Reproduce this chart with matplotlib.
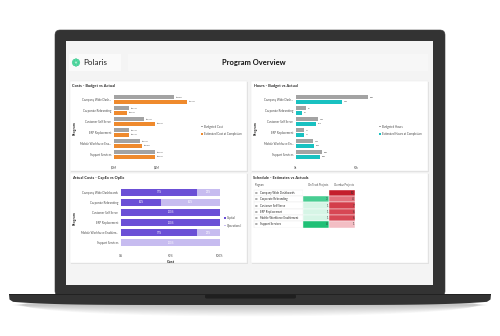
import matplotlib
matplotlib.use("Agg")
import matplotlib.pyplot as plt
import numpy as np
from matplotlib.patches import Rectangle, FancyBboxPatch, Circle, Ellipse, Polygon
from matplotlib.colors import LinearSegmentedColormap, Normalize

plt.rcParams["font.family"] = ["Lato", "DejaVu Sans"]

# ---------------- data ----------------
programs_cost = ["Company Wide Dash...", "Corporate Rebranding", "Customer Self Serve",
                 "ERP Replacement", "Mobile Workforce Ena...", "Support Services"]
programs_hours = ["Company Wide Dash...", "Corporate Rebranding", "Customer Self Serve",
                  "ERP Replacement", "Mobile Workforce En...", "Support Services"]
programs_capex = ["Company Wide Dashboards", "Corporate Rebranding", "Customer Self Serve",
                  "ERP Replacement", "Mobile Workforce Enablem...", "Support Services"]
programs_table = ["Company Wide Dashboards", "Corporate Rebranding", "Customer Self Serve",
                  "ERP Replacement", "Mobile Workforce Enablement", "Support Services"]

budget_cost = [2.8, 0.7, 1.4, 0.7, 1.2, 1.9]
est_cost = [3.4, 0.6, 1.9, 0.7, 1.3, 1.9]
cost_ticks = [0, 2]
cost_tick_labels = ["$0M", "$2M"]

budget_hours = [60, 8, 18, 7, 14, 22]
est_hours = [38, 5, 17, 7, 15, 20]
hours_ticks = [0, 50]
hours_tick_labels = ["0k", "50k"]

capital_pct = [77, 40, 100, 100, 77, 0]
operational_pct = [23, 60, 0, 0, 23, 100]
pct_ticks = [0, 50, 100]
pct_tick_labels = ["0%", "50%", "100%"]

on_track = [np.nan, 3, 1, 1, 1, 4]
overdue = [10, 4, 7, 6, 6, 1]
table_headers = ["Program", "On Track Projects", "Overdue Projects"]

# ---------------- styling ----------------
W, H = 500, 336
GRAY = "#a3a3a3"
ORANGE = "#ef8a2d"
TEAL = "#19c1c1"
PURPLE = "#6b4fd6"
LAVENDER = "#c7bcf0"
TXT = "#252423"
SUB = "#4a4a4a"
LBL = 2.1

fig = plt.figure(figsize=(W / 100, H / 100), dpi=100)
fig.patch.set_facecolor("white")

bg = fig.add_axes([0, 0, 1, 1])
bg.set_xlim(0, W)
bg.set_ylim(H, 0)
bg.axis("off")


def axpos(x0, y0, x1, y1):
    return [x0 / W, 1 - y1 / H, (x1 - x0) / W, (y1 - y0) / H]


# shadow under the laptop
for k in range(10):
    bg.add_patch(Ellipse((250, 305), 478 - 3 * k, 3 + 2.2 * k, color="#000000",
                         alpha=0.022, lw=0, zorder=0))

# lid
bg.add_patch(FancyBboxPatch((55, 30), 390, 266, boxstyle="round,pad=0,rounding_size=5",
                            fc="#333333", ec="#3c3c3c", lw=0.4, zorder=1))
# screen
bg.add_patch(Rectangle((66, 41), 367, 244, fc="#f4f4f4", ec="none", zorder=2))
# base (curved bottom)
xs = np.linspace(9, 491, 120)
bottom = 305 - 3.5 * ((xs - 250) / 241) ** 6
pts = [(9, 294.5)] + [(9.5, 299.5)] + list(zip(xs[1:-1], bottom[1:-1])) + [(490.5, 299.5), (491, 294.5)]
bg.add_patch(Polygon(pts, closed=True, fc="#333333", ec="none", zorder=3))
bg.add_patch(Rectangle((9, 294), 482, 0.9, fc="#222222", ec="none", zorder=3))
# notch
bg.add_patch(FancyBboxPatch((205, 294.5), 91, 4, boxstyle="round,pad=0,rounding_size=1.5",
                            fc="#1f1f1f", ec="none", zorder=4))

# header
bg.add_patch(Rectangle((69, 54), 52, 17, fc="#fafafa", ec="none", zorder=3))
bg.add_patch(Rectangle((128, 54), 300, 17, fc="#f7f7f7", ec="none", zorder=3))
# logo
for a in np.linspace(0, 2 * np.pi, 9)[:-1]:
    bg.add_patch(Circle((76 + 2.4 * np.cos(a), 62.5 + 2.4 * np.sin(a)), 1.5,
                        fc="#56dca4", ec="#2fbf85", lw=0.25, zorder=4))
bg.add_patch(Circle((76, 62.5), 1.4, fc="#a8efd0", ec="#2fbf85", lw=0.2, zorder=5))
bg.text(83, 62.5, "Polaris", fontsize=5.8, color="#222222", va="center", ha="left", zorder=5)
bg.text(254, 62.5, "Program Overview", fontsize=5.4, fontweight="bold", color="#111111",
        va="center", ha="center", zorder=5)

# panels
panels = [(70, 81, 247, 171), (251, 81, 428, 171), (70, 173, 247, 263), (251, 173, 428, 263)]
for (x0, y0, x1, y1) in panels:
    bg.add_patch(Rectangle((x0 + 0.6, y0 + 0.8), x1 - x0, y1 - y0, fc="#e2e2e2", ec="none", zorder=3))
    bg.add_patch(Rectangle((x0, y0), x1 - x0, y1 - y0, fc="white", ec="#e6e6e6", lw=0.3, zorder=4))

titles = [(72, 85.5, "Costs - Budget vs Actual"), (254, 85.5, "Hours - Budget vs Actual"),
          (72, 178, "Actual Costs - CapEx vs OpEx"), (253, 178, "Schedule - Estimates vs Actuals")]
for x, y, t in titles:
    bg.text(x, y, t, fontsize=2.8, fontweight="bold", color=TXT, va="center", ha="left", zorder=5)

for x, y in [(75, 128), (256, 128), (75, 218)]:
    bg.text(x, y, "Program", fontsize=2.6, fontweight="bold", color=TXT, rotation=90,
            va="center", ha="center", zorder=5)


def style_bar_axes(ax):
    ax.set_facecolor("none")
    for s in ax.spines.values():
        s.set_visible(False)
    ax.tick_params(length=0, labelsize=LBL, labelcolor=SUB)
    ax.tick_params(axis="y", pad=2)
    ax.tick_params(axis="x", pad=4)


def budget_chart(pos, cats, bud, est, xmax, ticks, tlabels, col, fmt, off, legend_labels):
    ax = fig.add_axes(axpos(*pos))
    style_bar_axes(ax)
    y = np.arange(len(cats))
    b1 = ax.barh(y - 0.19, bud, height=0.36, color=GRAY, label=legend_labels[0])
    b2 = ax.barh(y + 0.19, est, height=0.36, color=col, label=legend_labels[1])
    for yi, v in zip(y, bud):
        ax.text(v + off, yi - 0.19, fmt(v), fontsize=1.7, color=SUB, va="center", ha="left")
    for yi, v in zip(y, est):
        ax.text(v + off, yi + 0.19, fmt(v), fontsize=1.7, color=SUB, va="center", ha="left")
    ax.set_ylim(5.5, -0.5)
    ax.set_xlim(0, xmax)
    ax.set_yticks(y)
    ax.set_yticklabels(cats)
    ax.set_xticks(ticks)
    ax.set_xticklabels(tlabels)
    leg = ax.legend(handles=[b1, b2], loc="center left", bbox_to_anchor=(1.0, 0.45),
                    fontsize=LBL, frameon=False, handlelength=0.6, handleheight=0.6,
                    handletextpad=0.5, labelspacing=1.2, borderaxespad=0)
    for t in leg.get_texts():
        t.set_color(SUB)
    return ax


budget_chart((114, 94, 200, 160), programs_cost, budget_cost, est_cost, 4.0,
             cost_ticks, cost_tick_labels, ORANGE, lambda v: f"${v:.1f}M", 0.08,
             ["Budgeted Cost", "Estimated Cost at Completion"])
budget_chart((296, 94, 378, 160), programs_hours, budget_hours, est_hours, 68.3,
             hours_ticks, hours_tick_labels, TEAL, lambda v: f"{v}k", 1.5,
             ["Budgeted Hours", "Estimated Hours at Completion"])

# CapEx vs OpEx
ax3 = fig.add_axes(axpos(121, 187, 220, 248))
style_bar_axes(ax3)
y = np.arange(len(programs_capex))
c1 = ax3.barh(y, capital_pct, height=0.7, color=PURPLE, label="Capital")
c2 = ax3.barh(y, operational_pct, left=capital_pct, height=0.7, color=LAVENDER, label="Operational")
for yi, c, o in zip(y, capital_pct, operational_pct):
    if c > 0:
        ax3.text(c / 2, yi, f"{c}%", fontsize=1.8, color="white", ha="center", va="center")
    if o > 0:
        ax3.text(c + o / 2, yi, f"{o}%", fontsize=1.8, color="white", ha="center", va="center")
ax3.set_xlim(0, 100)
ax3.set_ylim(5.5, -0.5)
ax3.set_yticks(y)
ax3.set_yticklabels(programs_capex)
ax3.set_xticks(pct_ticks)
ax3.set_xticklabels(pct_tick_labels)
ax3.set_xlabel("Cost", fontsize=2.8, fontweight="bold", color=TXT, labelpad=2)
leg = ax3.legend(handles=[c1, c2], loc="center left", bbox_to_anchor=(1.03, 0.43),
                 fontsize=LBL, frameon=False, handlelength=0.6, handleheight=0.6,
                 handletextpad=0.5, labelspacing=1.2, borderaxespad=0)
for t in leg.get_texts():
    t.set_color(SUB)

# Schedule table
ax4 = fig.add_axes(axpos(253, 181, 356, 228))
ax4.set_facecolor("none")
ax4.axis("off")
row_px = 6.28
ax4.set_xlim(253, 356)
ax4.set_ylim((228 - 193) / row_px, (181 - 193) / row_px)
hy = (185 - 193) / row_px
ax4.text(255, hy, table_headers[0], fontsize=1.9, color=SUB, ha="left", va="center")
ax4.text(328, hy, table_headers[1], fontsize=1.9, color=SUB, ha="right", va="center")
ax4.text(354, hy, table_headers[2], fontsize=1.9, color=SUB, ha="right", va="center")

g_cmap = LinearSegmentedColormap.from_list("g", ["#d6f5e6", "#5dd3a0", "#1fc076"])
r_cmap = LinearSegmentedColormap.from_list("r", ["#f3bec4", "#da4c59", "#c41e2c"])
g_norm = Normalize(1, 4)
r_norm = Normalize(1, 10)
for i, (name, ok, od) in enumerate(zip(programs_table, on_track, overdue)):
    ax4.add_patch(Rectangle((253.5, i - 0.5), 49.5, 1, fc="white", ec="#e8e8e8", lw=0.3))
    ax4.text(256, i, "\u229e", fontsize=2.3, color="#8a8a8a", ha="center", va="center",
             family="DejaVu Sans")
    ax4.text(259.5, i, name, fontsize=2.0, color=TXT, ha="left", va="center")
    okc = "white" if np.isnan(ok) else g_cmap(g_norm(ok))
    ax4.add_patch(Rectangle((303, i - 0.5), 26, 1, fc=okc, ec="white", lw=0.3))
    ax4.add_patch(Rectangle((329, i - 0.5), 26, 1, fc=r_cmap(r_norm(od)), ec="white", lw=0.3))
    if not np.isnan(ok):
        ax4.text(328, i, f"{int(ok)}", fontsize=2.0, color="#333333", ha="right", va="center")
    ax4.text(354, i, f"{od}", fontsize=2.0, color="#333333", ha="right", va="center")

fig.savefig("out.png", dpi=100, facecolor="white")
